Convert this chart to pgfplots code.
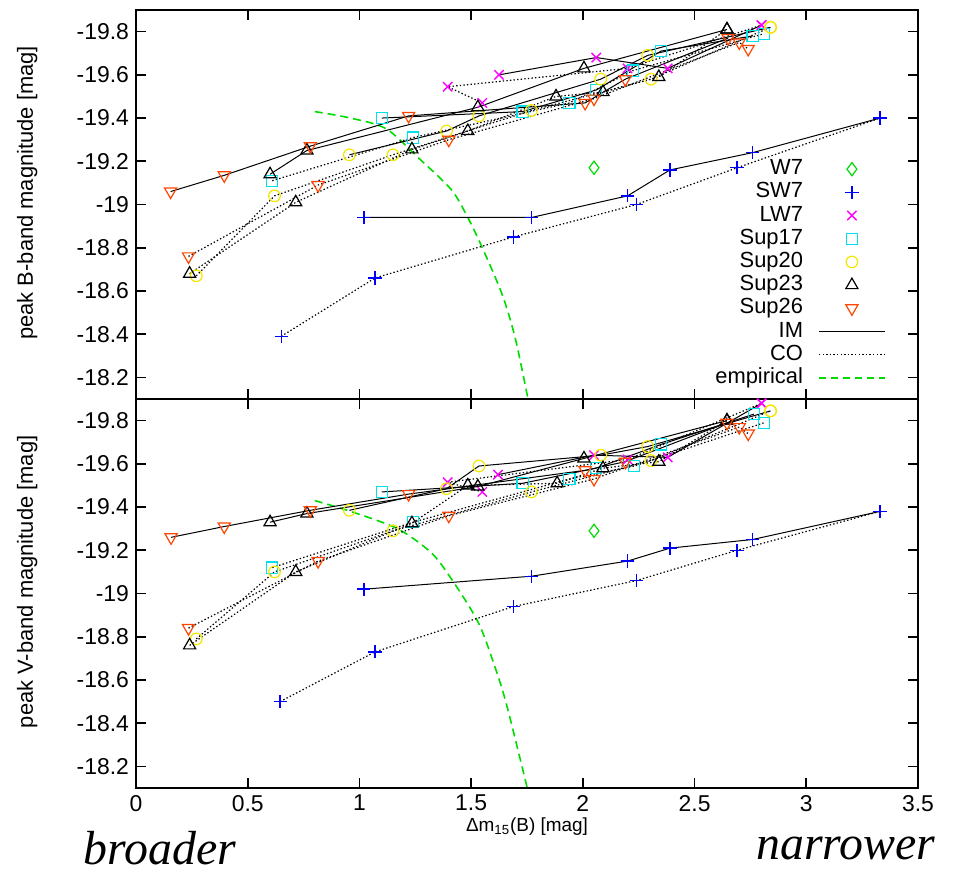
\documentclass[border=0pt]{standalone}
\usepackage{fontspec}
\setmainfont{Liberation Sans}
\newfontfamily\serifit{Liberation Serif}
\usepackage{pgfplots}
\pgfplotsset{compat=1.18}

\definecolor{cW7}{RGB}{0,220,0}
\definecolor{cSW7}{RGB}{0,0,255}
\definecolor{cLW7}{RGB}{255,0,255}
\definecolor{cS17}{RGB}{0,225,235}
\definecolor{cS20}{RGB}{245,230,0}
\definecolor{cS23}{RGB}{0,0,0}
\definecolor{cS26}{RGB}{255,69,0}
\definecolor{cEmp}{RGB}{0,220,0}

\pgfplotsset{
  panel/.style={scale only axis, width=391bp, height=194.5bp,
    xmin=0, xmax=3.5, ymin=-19.9, ymax=-18.1, y dir=reverse,
    xtick={0,0.5,1,1.5,2,2.5,3,3.5},
    ytick={-19.8,-19.6,-19.4,-19.2,-19,-18.8,-18.6,-18.4,-18.2},
    tick align=inside, tick pos=both, major tick length=5bp,
    axis line style={line width=0.9bp},
    every tick/.style={line width=0.8bp, black},
    tick label style={font=\fontsize{11.5}{13}\selectfont},
    /pgf/number format/assume math mode=true,
    label style={font=\fontsize{11}{13}\selectfont},
    ylabel style={at={(axis description cs:-0.139,0.53)}, anchor=center},
    legend image code/.code={\draw[mark repeat=2,mark phase=2,##1] plot coordinates {(0bp,0bp) (16.5bp,0bp) (33bp,0bp)};},
  },
  IM/.style={black, solid, line width=0.5bp, forget plot},
  CO/.style={black, line width=0.6bp, dash pattern=on 0.7bp off 1.1bp, forget plot},
  mW7/.style={mark=diamond, mark size=3.3bp, mark options={cW7, solid, line width=0.6bp}},
  mSW7/.style={mark=+, mark size=3.3bp, mark options={cSW7, solid, line width=0.7bp}},
  mLW7/.style={mark=x, mark size=3.3bp, mark options={cLW7, solid, line width=0.7bp}},
  mS17/.style={mark=square, mark size=2.8bp, mark options={cS17, solid, line width=0.6bp}},
  mS20/.style={mark=o, mark size=2.9bp, mark options={cS20, solid, line width=0.6bp}},
  mS23/.style={mark=triangle, mark size=3.5bp, mark options={cS23, solid, line width=0.6bp}},
  mS26/.style={mark=triangle, mark size=3.5bp, mark options={cS26, solid, line width=0.6bp, rotate=180}},
  emp/.style={color=cEmp, line width=0.8bp, dash pattern=on 4bp off 2.5bp, smooth, forget plot},
}

\begin{document}
\begin{tikzpicture}
\path[use as bounding box] (-68bp,5bp) rectangle (411.5bp,-432.5bp);

% ---------------- top panel: B band ----------------
\begin{axis}[panel, at={(0,0)}, anchor=north west,
  xticklabels={},
  ylabel={peak B-band magnitude [mag]},
  legend plot pos=right,
  legend cell align=right,
  legend style={at={(0.967,0.632)}, anchor=north east, draw=none, fill=none,
    font=\fontsize{11}{11}\selectfont, row sep=0bp,
    nodes={inner sep=0.5bp, text height=8.1bp, text depth=2.5bp},
    /tikz/every odd column/.append style={column sep=7bp}},
]
\addplot[emp] coordinates {(0.80,-19.43)(0.96,-19.40)(1.12,-19.35)(1.27,-19.21)(1.41,-19.07)(1.48,-18.95)(1.55,-18.80)(1.64,-18.58)(1.70,-18.37)(1.77,-18.02)};

\addplot[only marks, mW7, forget plot] coordinates {(2.05,-19.17)};

\addplot[IM, mSW7] coordinates {(1.02,-18.94)(1.77,-18.94)(2.20,-19.04)(2.39,-19.16)(2.76,-19.24)(3.33,-19.40)};
\addplot[CO, mSW7] coordinates {(0.65,-18.39)(1.07,-18.66)(1.69,-18.85)(2.24,-19.00)(2.69,-19.17)(3.33,-19.40)};

\addplot[IM, mLW7] coordinates {(1.625,-19.60)(2.06,-19.68)(2.38,-19.63)(2.80,-19.83)};
\addplot[CO, mLW7] coordinates {(1.55,-19.47)(1.395,-19.545)(2.20,-19.63)(2.80,-19.83)};

\addplot[IM, mS17] coordinates {(1.10,-19.40)(1.73,-19.43)(2.06,-19.53)(2.35,-19.71)(2.76,-19.78)};
\addplot[CO, mS17] coordinates {(0.61,-19.11)(1.24,-19.31)(1.94,-19.47)(2.225,-19.62)(2.81,-19.79)};

\addplot[IM, mS20] coordinates {(0.955,-19.23)(1.39,-19.34)(1.535,-19.41)(2.08,-19.58)(2.29,-19.69)(2.84,-19.82)};
\addplot[CO, mS20] coordinates {(0.27,-18.67)(0.62,-19.04)(1.15,-19.23)(1.77,-19.435)(2.305,-19.58)(2.84,-19.82)};

\addplot[IM, mS23] coordinates {(0.60,-19.14)(0.765,-19.25)(1.53,-19.45)(2.005,-19.63)(2.645,-19.81)};
\addplot[CO, mS23] coordinates {(0.24,-18.68)(0.715,-19.01)(1.235,-19.255)(1.485,-19.34)(1.88,-19.50)(2.09,-19.52)(2.34,-19.59)(2.645,-19.81)};

\addplot[IM, mS26] coordinates {(0.155,-19.06)(0.395,-19.135)(0.78,-19.27)(1.22,-19.41)(2.01,-19.47)(2.19,-19.58)(2.65,-19.77)};
\addplot[CO, mS26] coordinates {(0.235,-18.76)(0.815,-19.09)(1.40,-19.30)(2.05,-19.49)(2.70,-19.75)(2.74,-19.72)};

\addlegendimage{only marks, mW7}\addlegendentry{W7}
\addlegendimage{only marks, mSW7}\addlegendentry{SW7}
\addlegendimage{only marks, mLW7}\addlegendentry{LW7}
\addlegendimage{only marks, mS17}\addlegendentry{Sup17}
\addlegendimage{only marks, mS20}\addlegendentry{Sup20}
\addlegendimage{only marks, mS23}\addlegendentry{Sup23}
\addlegendimage{only marks, mS26}\addlegendentry{Sup26}
\addlegendimage{color=black, solid, line width=0.6bp}\addlegendentry{IM}
\addlegendimage{color=black, line width=0.7bp, dash pattern=on 0.7bp off 1.1bp}\addlegendentry{CO}
\addlegendimage{color=cEmp, line width=0.9bp, dash pattern=on 3.5bp off 2.5bp}\addlegendentry{empirical}
\end{axis}

% ---------------- bottom panel: V band ----------------
\begin{axis}[panel, at={(0,-194.5bp)}, anchor=north west,
  ylabel={peak V-band magnitude [mag]},
  xlabel={Δm\textsubscript{15}(B) [mag]},
  xlabel style={font=\fontsize{9.5}{11}\selectfont, at={(axis description cs:0.5,-0.1)}, anchor=center},
]
\addplot[emp] coordinates {(0.80,-19.43)(0.96,-19.38)(1.17,-19.30)(1.32,-19.19)(1.41,-19.07)(1.53,-18.87)(1.60,-18.68)(1.66,-18.48)(1.77,-18.02)};

\addplot[only marks, mW7, forget plot] coordinates {(2.05,-19.29)};

\addplot[IM, mSW7] coordinates {(1.02,-19.02)(1.77,-19.08)(2.20,-19.15)(2.39,-19.21)(2.76,-19.25)(3.33,-19.38)};
\addplot[CO, mSW7] coordinates {(0.645,-18.50)(1.07,-18.73)(1.69,-18.94)(2.24,-19.06)(2.69,-19.20)(3.33,-19.38)};

\addplot[IM, mLW7] coordinates {(1.62,-19.55)(2.05,-19.64)(2.38,-19.63)(2.80,-19.88)};
\addplot[CO, mLW7] coordinates {(1.55,-19.47)(1.395,-19.515)(2.20,-19.62)(2.80,-19.88)};

\addplot[IM, mS17] coordinates {(1.10,-19.47)(1.73,-19.51)(2.06,-19.58)(2.35,-19.69)(2.765,-19.83)};
\addplot[CO, mS17] coordinates {(0.61,-19.12)(1.24,-19.33)(1.94,-19.53)(2.23,-19.59)(2.81,-19.79)};

\addplot[IM, mS20] coordinates {(0.955,-19.385)(1.39,-19.485)(1.535,-19.59)(2.08,-19.64)(2.29,-19.68)(2.84,-19.845)};
\addplot[CO, mS20] coordinates {(0.27,-18.79)(0.62,-19.10)(1.15,-19.29)(1.77,-19.47)(2.305,-19.615)(2.84,-19.845)};

\addplot[IM, mS23] coordinates {(0.60,-19.33)(0.765,-19.37)(1.53,-19.495)(2.005,-19.625)(2.645,-19.80)};
\addplot[CO, mS23] coordinates {(0.24,-18.76)(0.715,-19.10)(1.235,-19.325)(1.485,-19.50)(1.885,-19.51)(2.09,-19.58)(2.34,-19.61)(2.645,-19.80)};

\addplot[IM, mS26] coordinates {(0.157,-19.26)(0.395,-19.31)(0.78,-19.385)(1.22,-19.46)(2.01,-19.57)(2.19,-19.61)(2.645,-19.79)};
\addplot[CO, mS26] coordinates {(0.235,-18.84)(0.815,-19.15)(1.40,-19.36)(2.05,-19.53)(2.70,-19.77)(2.74,-19.74)};
\end{axis}

\node[font=\serifit\itshape\fontsize{24}{27}\selectfont, inner sep=0pt] at (12bp,-419bp) {broader};
\node[font=\serifit\itshape\fontsize{24}{27}\selectfont, inner sep=0pt] at (355bp,-419bp) {narrower};
\end{tikzpicture}
\end{document}
